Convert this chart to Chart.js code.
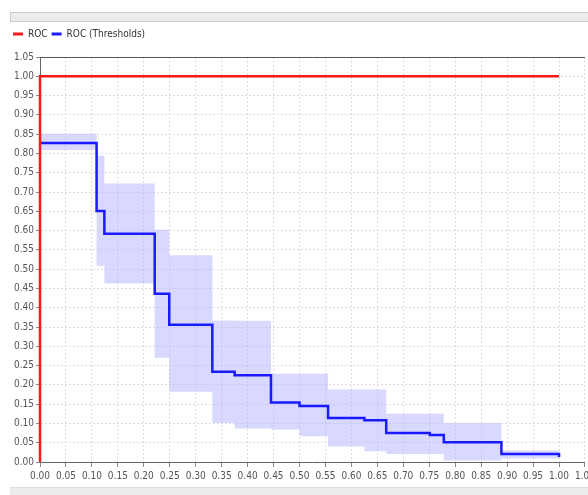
<!DOCTYPE html>
<html>
<head>
<meta charset="utf-8">
<script src="https://cdn.jsdelivr.net/npm/chart.js@4.4.1/dist/chart.umd.min.js"></script>
<style>
  html, body { margin: 0; padding: 0; background: #fff; overflow: hidden; width: 588px; height: 495px; }
  #topbar { position: absolute; left: 10px; top: 12px; width: 590px; height: 8px; background: #ececec; border: 1px solid #cccccc; }
  #botbar { position: absolute; left: 10px; top: 487px; width: 590px; height: 10px; background: #ececec; border-top: 1px solid #dddddd; }
  #chart { position: absolute; left: 0; top: 25px; }
</style>
</head>
<body>
<div id="topbar"></div>
<div id="botbar"></div>
<canvas id="chart" width="598" height="464"></canvas>
<script>
// ROC curve (red)
const rocX = [0, 0, 1];
const rocY = [0, 1, 1];

// ROC (Thresholds) step curve, value holds from stepX[i] until stepX[i+1]
const stepX = [0, 0.109, 0.124, 0.221, 0.249, 0.332, 0.375, 0.445, 0.500, 0.555, 0.625, 0.667, 0.751, 0.778, 0.889, 1.0];
const thresholdY = [0.827, 0.651, 0.592, 0.436, 0.356, 0.234, 0.225, 0.154, 0.145, 0.114, 0.108, 0.075, 0.070, 0.051, 0.021, 0.013];
// confidence band around thresholds
const bandLow = [0.809, 0.509, 0.463, 0.270, 0.182, 0.101, 0.087, 0.084, 0.067, 0.040, 0.028, 0.021, 0.021, 0.004, 0.009, 0.009];
const bandHigh = [0.851, 0.794, 0.722, 0.602, 0.536, 0.367, 0.366, 0.229, 0.229, 0.188, 0.188, 0.125, 0.125, 0.101, 0.030, 0.030];

const toPts = (xs, ys) => xs.map((x, i) => ({ x: x, y: ys[i] }));

const FONT = { family: "'Liberation Sans Narrow', 'DejaVu Sans Condensed', sans-serif", size: 10 };

// extra space under the legend, and push it a bit to the right
const legendMargin = {
  id: "legendMargin",
  beforeInit(chart) {
    const fit = chart.legend.fit;
    chart.legend.fit = function () {
      fit.bind(chart.legend)();
      this.height += 8;
    };
  },
  afterLayout(chart) {
    chart.legend.left += 9;
  },
};

// solid frame line on top of the plot
const plotFrame = {
  id: "plotFrame",
  afterDatasetsDraw(chart) {
    const a = chart.chartArea;
    const ctx = chart.ctx;
    ctx.save();
    ctx.strokeStyle = "#555";
    ctx.lineWidth = 1;
    ctx.beginPath();
    ctx.moveTo(a.left, a.top + 0.5);
    ctx.lineTo(a.right, a.top + 0.5);
    ctx.stroke();
    ctx.restore();
  },
};

new Chart(document.getElementById("chart"), {
  type: "line",
  data: {
    datasets: [
      {
        label: "ROC",
        data: toPts(rocX, rocY),
        borderColor: "#ff1a1a",
        backgroundColor: "#ff1a1a",
        borderWidth: 2.5,
        pointRadius: 0,
        fill: false,
        clip: 4,
      },
      {
        label: "ROC (Thresholds)",
        data: toPts(stepX, thresholdY),
        borderColor: "#1a1aff",
        backgroundColor: "#1a1aff",
        borderWidth: 2.5,
        pointRadius: 0,
        stepped: true,
        fill: false,
        clip: 4,
      },
      {
        label: "high",
        data: toPts(stepX, bandHigh),
        borderWidth: 0,
        borderColor: "rgba(0,0,0,0)",
        backgroundColor: "rgba(180,180,255,0.5)",
        pointRadius: 0,
        stepped: true,
        fill: "+1",
      },
      {
        label: "low",
        data: toPts(stepX, bandLow),
        borderWidth: 0,
        borderColor: "rgba(0,0,0,0)",
        pointRadius: 0,
        stepped: true,
        fill: false,
      },
    ],
  },
  options: {
    responsive: false,
    animation: false,
    devicePixelRatio: 1,
    layout: { padding: { top: 0, left: 0, right: 0, bottom: 0 } },
    plugins: {
      tooltip: { enabled: false },
      legend: {
        position: "top",
        align: "start",
        labels: {
          font: FONT,
          color: "#333",
          boxWidth: 10,
          boxHeight: 3,
          padding: 4,
          generateLabels(chart) {
            const items = Chart.defaults.plugins.legend.labels.generateLabels(chart);
            return items.slice(0, 2).map((it) => {
              it.fillStyle = it.strokeStyle;
              it.lineWidth = 0;
              return it;
            });
          },
        },
      },
    },
    scales: {
      x: {
        type: "linear",
        min: 0,
        max: 1.05,
        ticks: {
          stepSize: 0.05,
          autoSkip: false,
          maxRotation: 0,
          font: FONT,
          color: "#555",
          padding: 3,
          callback: (v) => v.toFixed(2),
        },
        grid: { color: "#dddddd", tickColor: "#888", tickLength: 5 },
        border: { color: "#666", dash: [2, 2] },
        afterFit(scale) { scale.height = 27; },
      },
      y: {
        type: "linear",
        min: 0,
        max: 1.05,
        ticks: {
          stepSize: 0.05,
          autoSkip: false,
          font: FONT,
          color: "#555",
          padding: 2,
          callback: (v) => v.toFixed(2),
        },
        grid: { color: "#dddddd", tickColor: "#888", tickLength: 4 },
        border: { color: "#666", dash: [2, 2] },
        afterFit(scale) { scale.width = 40; },
      },
    },
  },
  plugins: [legendMargin, plotFrame],
});
</script>
</body>
</html>
